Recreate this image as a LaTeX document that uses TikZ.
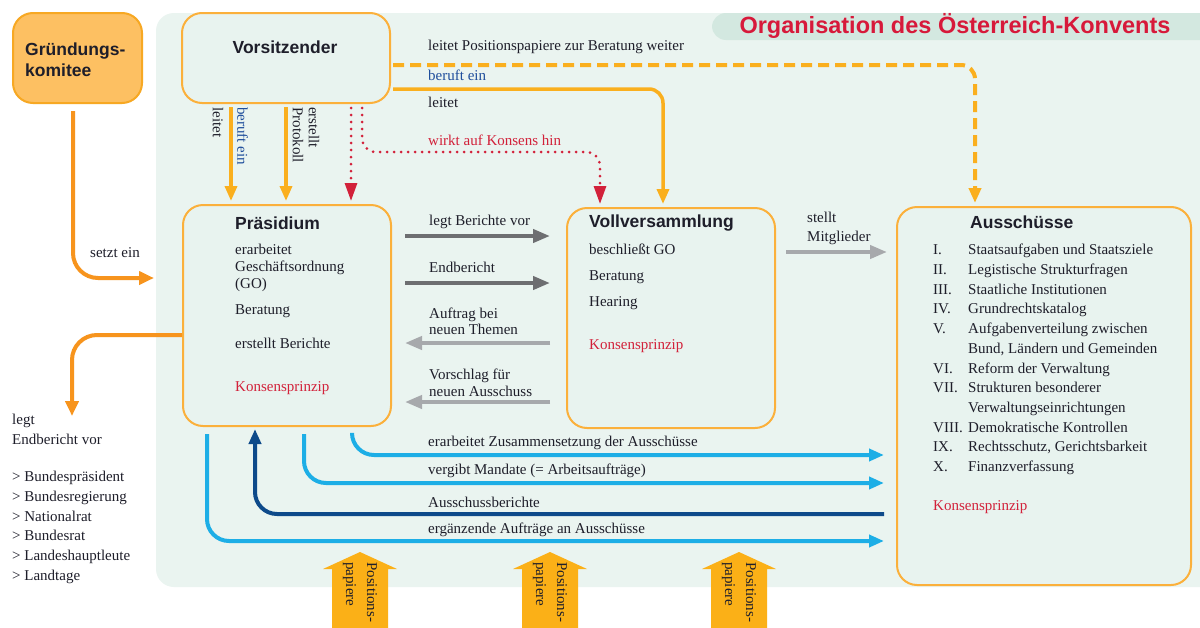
\documentclass[tikz,border=0pt]{standalone}
\usepackage{fontspec}
\setmainfont{Liberation Serif}
\newfontfamily\sansbf{Liberation Sans}
\usetikzlibrary{arrows.meta,calc}
\definecolor{panelbg}{HTML}{EAF4F0}
\definecolor{tabbg}{HTML}{D3E8E0}
\definecolor{boxbg}{HTML}{E8F3EF}
\definecolor{boxline}{HTML}{FBB03B}
\definecolor{gkfill}{HTML}{FDC062}
\definecolor{gkline}{HTML}{F7A823}
\definecolor{darkorange}{HTML}{F7941D}
\definecolor{arrorange}{HTML}{FAAF1E}
\definecolor{konsred}{HTML}{D2213A}
\definecolor{titlered}{HTML}{D7193A}
\definecolor{txtblue}{HTML}{1F4E9C}
\definecolor{ltblue}{HTML}{1DAEE6}
\definecolor{dkblue}{HTML}{0E4A8A}
\definecolor{dkgray}{HTML}{6D6E71}
\definecolor{ltgray}{HTML}{A7A9AC}
\definecolor{blockor}{HTML}{FBB017}
\definecolor{txt}{HTML}{1E1E2A}
\tikzset{
  box/.style={draw=boxline, line width=2pt, fill=boxbg, rounded corners=20pt, inner sep=0pt},
  gkbox/.style={draw=gkline, line width=2pt, fill=gkfill, rounded corners=20pt, inner sep=0pt},
  head/.style={font=\sansbf\bfseries\fontsize{17.5}{21}\selectfont, text=txt, anchor=west, inner sep=0pt, align=left},
  lbl/.style={font=\fontsize{15}{18}\selectfont, text=txt, anchor=west, inner sep=0pt, align=left},
  kons/.style={lbl, text=konsred},
  vlbl/.style={lbl, rotate=-90},
  garrow/.style={draw=darkorange, line width=4pt, -{Triangle[length=15pt,width=13pt]}, rounded corners=25pt},
  oarrow/.style={draw=arrorange, line width=3.5pt, -{Triangle[length=15pt,width=12pt]}},
  reddot/.style={draw=konsred, line width=3pt, line cap=round, dash pattern=on 0pt off 7pt, -{Triangle[length=18pt,width=12pt]}},
  rarrow/.style={draw=dkgray, line width=4pt, -{Triangle[length=17pt,width=13pt]}},
  larrow/.style={draw=ltgray, line width=4pt, -{Triangle[length=17pt,width=13pt]}},
  barrow/.style={draw=ltblue, line width=4pt, -{Triangle[length=15pt,width=12pt]}, rounded corners=22pt},
  dbarrow/.style={draw=dkblue, line width=4pt, -{Triangle[length=15pt,width=12pt]}, rounded corners=22pt},
}
\begin{document}
\begin{tikzpicture}[x=1pt,y=-1pt]
\useasboundingbox (0,0) rectangle (1200,627);
\clip (0,0) rectangle (1200,627);
\fill[white] (0,0) rectangle (1200,627);
% panel
\fill[panelbg, rounded corners=18pt] (156,13) rectangle (1230,587);
\fill[tabbg, rounded corners=14pt] (712,13) rectangle (1230,40);
\node[font=\sansbf\bfseries\fontsize{23.5}{27}\selectfont, text=titlered, inner sep=0pt] (title) at (955,26) {Organisation des Österreich-Konvents};

% boxes
\node[gkbox, minimum width=129pt, minimum height=90pt] (gk) at (77.5,58) {};
\node[head] (gktxt) at (25,60) {Gründungs-\\komitee};
\node[box, minimum width=208pt, minimum height=90pt] (vors) at (286,58) {};
\node[head, anchor=center] (vorstxt) at (285,47) {Vorsitzender};
\node[box, minimum width=208pt, minimum height=221pt] (pres) at (287,315.5) {};
\node[box, minimum width=208pt, minimum height=220pt] (voll) at (671,318) {};
\node[box, minimum width=294pt, minimum height=378pt] (aus) at (1044,396) {};

% Praesidium text
\node[head] (preshd) at (235,223) {Präsidium};
\node[lbl, font=\fontsize{15}{17}\selectfont] (pres1) at (235,268) {erarbeitet\\Geschäftsordnung\\(GO)};
\node[lbl] (pres2) at (235,311) {Beratung};
\node[lbl] (pres3) at (235,343) {erstellt Berichte};
\node[kons] (pres4) at (235,388) {Konsensprinzip};

% Vollversammlung text
\node[head] (vollhd) at (589,223) {Vollversammlung};
\node[lbl] (voll1) at (589,249) {beschließt GO};
\node[lbl] (voll2) at (589,277) {Beratung};
\node[lbl] (voll3) at (589,303) {Hearing};
\node[kons] (voll4) at (589,346) {Konsensprinzip};

% Ausschuesse text
\node[head] (aushd) at (970,222) {Ausschüsse};
\node[lbl, font=\fontsize{15}{19.7}\selectfont] (auslist) at (933,359.5) {%
\makebox[35pt][l]{I.}Staatsaufgaben und Staatsziele\\
\makebox[35pt][l]{II.}Legistische Strukturfragen\\
\makebox[35pt][l]{III.}Staatliche Institutionen\\
\makebox[35pt][l]{IV.}Grundrechtskatalog\\
\makebox[35pt][l]{V.}Aufgabenverteilung zwischen\\
\hspace*{35pt}Bund, Ländern und Gemeinden\\
\makebox[35pt][l]{VI.}Reform der Verwaltung\\
\makebox[35pt][l]{VII.}Strukturen besonderer\\
\hspace*{35pt}Verwaltungseinrichtungen\\
\makebox[35pt][l]{VIII.}Demokratische Kontrollen\\
\makebox[35pt][l]{IX.}Rechtsschutz, Gerichtsbarkeit\\
\makebox[35pt][l]{X.}Finanzverfassung};
\node[kons] (aus4) at (933,507) {Konsensprinzip};

% Gruendungskomitee arrows
\coordinate (gkend) at (154,278);
\draw[garrow] ([shift={(-4.5,7)}]gk.south) |- (gkend);
\node[lbl] (setzt) at (90,253) {setzt ein};
\coordinate (legtend) at (72,416);
\draw[garrow] ([shift={(0,19.5)}]pres.west) -| (legtend);
\node[lbl, font=\fontsize{15}{20}\selectfont] (legt) at (12,429) {legt\\Endbericht vor};
\node[lbl, font=\fontsize{15}{19.8}\selectfont] (empf) at (12,527.5) {> Bundespräsident\\> Bundesregierung\\> Nationalrat\\> Bundesrat\\> Landeshauptleute\\> Landtage};

% Vorsitzender -> Praesidium
\draw[oarrow] ([shift={(-55,3)}]vors.south) -- ([shift={(-56,-3)}]pres.north);
\draw[oarrow] ([shift={(0,3)}]vors.south) -- ([shift={(-1,-3)}]pres.north);
\draw[reddot] ([shift={(65,4)}]vors.south) -- ([shift={(64,-3)}]pres.north);
\node[vlbl] (vleitet) at (218,107) {leitet};
\node[vlbl, text=txtblue] (vberuft) at (242.5,107) {beruft ein};
\node[vlbl, font=\fontsize{15}{16}\selectfont] (vprot) at (306,107) {erstellt\\Protokoll};

% Vorsitzender -> Vollversammlung / Ausschuesse
\draw[reddot, rounded corners=14pt] ([shift={(76,4)}]vors.south) |- ([shift={(-71,-55)}]voll.north) -- ([shift={(-71,-3)}]voll.north);
\draw[oarrow, rounded corners=14pt] ([shift={(2,31)}]vors.east) -| ([shift={(-8,-3)}]voll.north);
\draw[oarrow, line width=4pt, dash pattern=on 11pt off 6pt, rounded corners=14pt] ([shift={(2,7)}]vors.east) -| ([shift={(-69,-3)}]aus.north);
\node[lbl] (tpos) at (428,47) {leitet Positionspapiere zur Beratung weiter};
\node[lbl, text=txtblue] (tberuft) at (428,75) {beruft ein};
\node[lbl] (tleitet) at (428,102) {leitet};
\node[kons] (twirkt) at (428,140) {wirkt auf Konsens hin};

% Praesidium <-> Vollversammlung
\draw[rarrow] ([shift={(13,-79.5)}]pres.east) -- ([shift={(-16,-82)}]voll.west);
\draw[rarrow] ([shift={(13,-32.5)}]pres.east) -- ([shift={(-16,-35)}]voll.west);
\draw[larrow] ([shift={(-16,25)}]voll.west) -- ([shift={(13,27.5)}]pres.east);
\draw[larrow] ([shift={(-16,84)}]voll.west) -- ([shift={(13,86.5)}]pres.east);
\node[lbl] (mlegt) at (429,222) {legt Berichte vor};
\node[lbl] (mend) at (429,267) {Endbericht};
\node[lbl, font=\fontsize{15}{16.5}\selectfont] (mauf) at (429,321.5) {Auftrag bei\\neuen Themen};
\node[lbl, font=\fontsize{15}{17}\selectfont] (mvor) at (429,383) {Vorschlag für\\neuen Ausschuss};

% Vollversammlung -> Ausschuesse
\draw[larrow] ([shift={(10,-66)}]voll.east) -- ([shift={(-9,-144)}]aus.west);
\node[lbl, font=\fontsize{15}{19}\selectfont] (stellt) at (807,228.5) {stellt\\Mitglieder};

% Praesidium <-> Ausschuesse
\draw[barrow] ([shift={(65,7)}]pres.south) |- ([shift={(-12,59)}]aus.west);
\draw[barrow] ([shift={(17,7)}]pres.south) |- ([shift={(-12,87)}]aus.west);
\draw[dbarrow] ([shift={(-12,118)}]aus.west) -| ([shift={(-32,2)}]pres.south);
\draw[barrow] ([shift={(-80,7)}]pres.south) |- ([shift={(-12,145)}]aus.west);
\node[lbl] (b1) at (428,443) {erarbeitet Zusammensetzung der Ausschüsse};
\node[lbl] (b2) at (428,471) {vergibt Mandate (= Arbeitsaufträge)};
\node[lbl] (b3) at (428,502) {Ausschussberichte};
\node[lbl] (b4) at (428,530) {ergänzende Aufträge an Ausschüsse};

% Positionspapiere block arrows
\foreach \cx/\nm in {360/pa,550/pb,739/pc}{
  \fill[blockor] (\cx-28,640) -- (\cx-28,569) -- (\cx-37,569) -- (\cx,552) -- (\cx+37,569) -- (\cx+28,569) -- (\cx+28,640) -- cycle;
  \node[vlbl, font=\fontsize{15}{21}\selectfont] (\nm) at (\cx,562) {Positions-\\papiere};
}
\end{tikzpicture}
\end{document}
